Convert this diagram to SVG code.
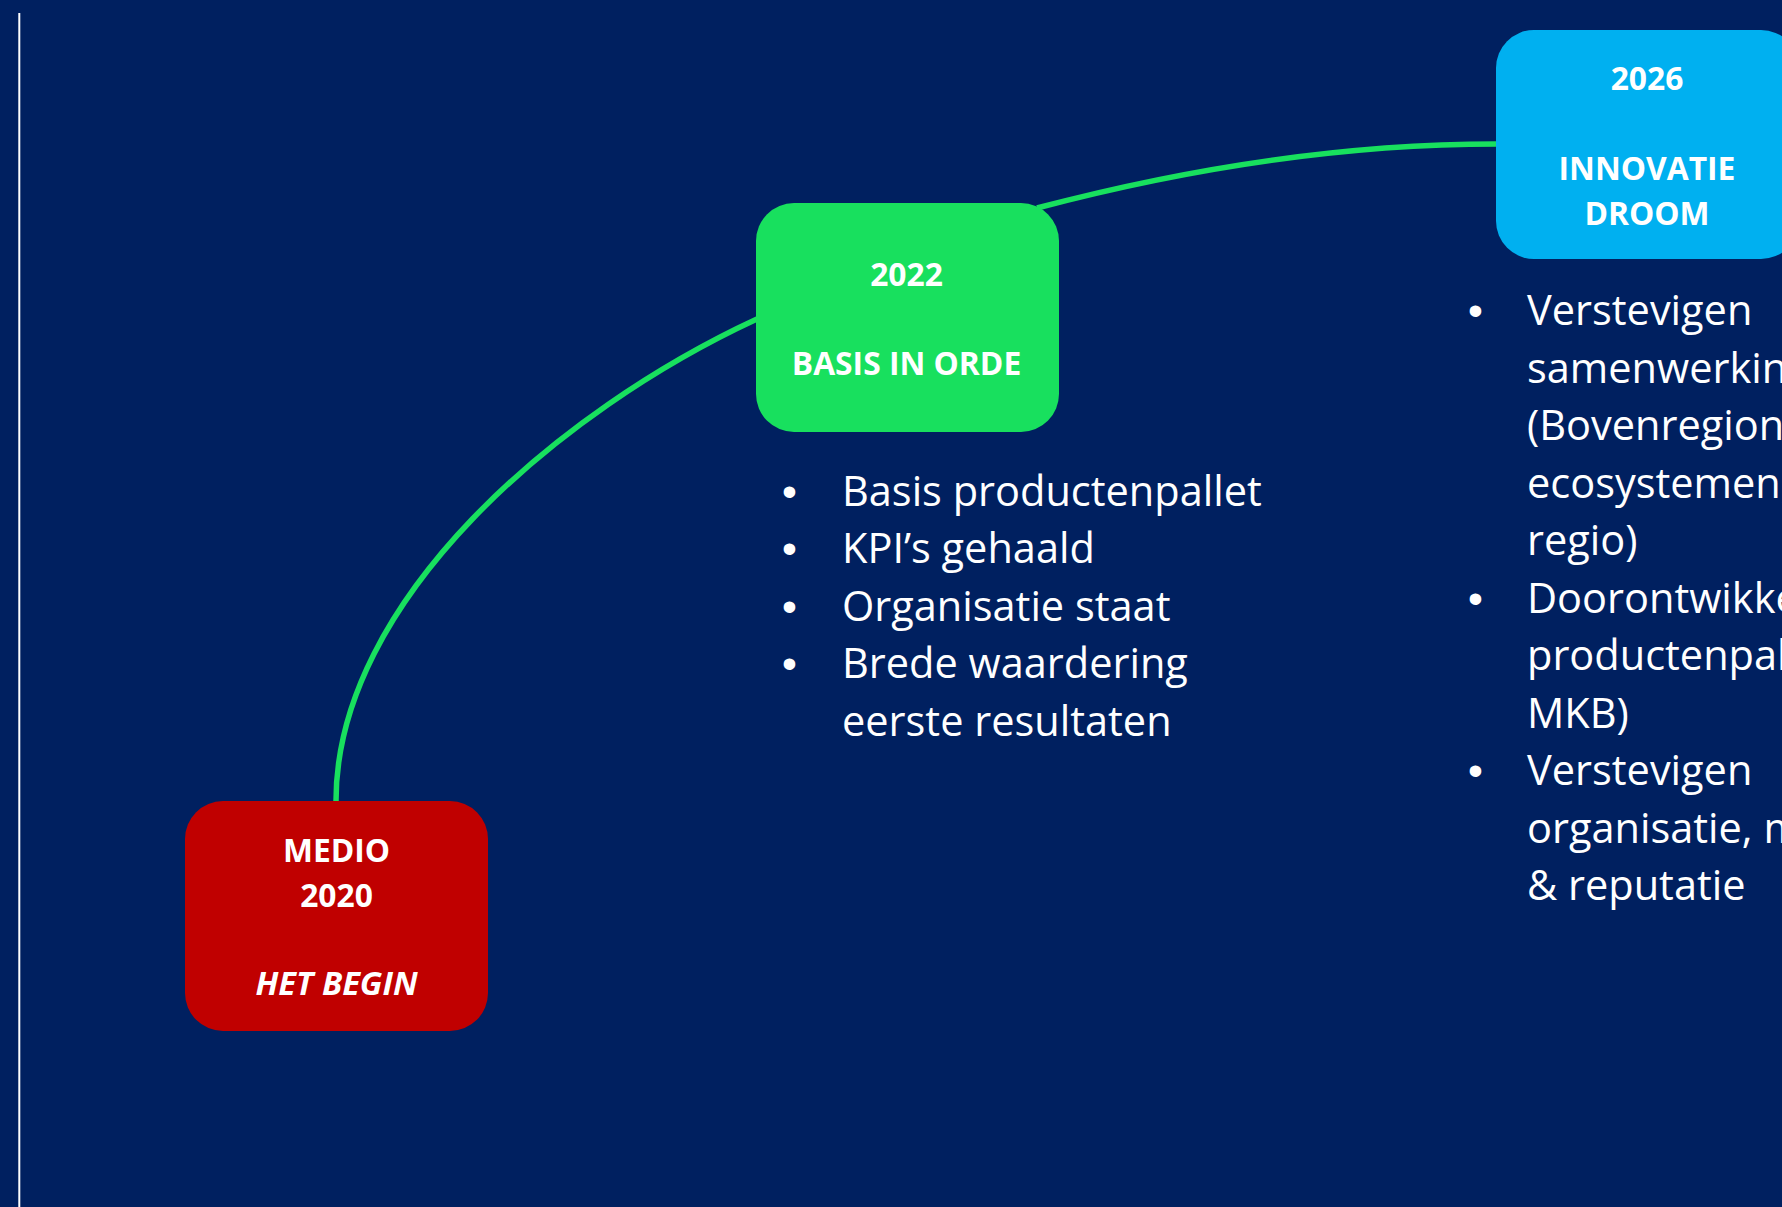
<svg xmlns="http://www.w3.org/2000/svg" width="1782" height="1207" viewBox="0 0 1782 1207">
<style>
.bg{fill:#002060}
.conn{fill:none;stroke:#18E05E;stroke-width:5.5}
.t{fill:#FFFFFF;font-family:"Open Sans","Noto Sans",sans-serif;font-weight:700;font-size:31.8px;text-anchor:middle}
.ti{font-style:italic;font-size:32.7px}
.b{fill:#FFFFFF;font-family:"Open Sans","Noto Sans",sans-serif;font-size:41.5px}
.bu{fill:#FFFFFF;font-family:"Liberation Sans",Arial,sans-serif;font-size:42.5px}
</style>
<rect class="bg" x="0" y="0" width="1782" height="1207"/>
<line x1="19.3" y1="13" x2="19.3" y2="1207" stroke="#FFFFFF" stroke-width="2"/>
<g id="connectors">
<path class="conn" d="M336,801 C336,600 560,410 757,319"/>
<path class="conn" d="M1037,208 C1200,165 1350,144 1497,144"/>
</g>
<g id="node-2020">
<rect x="185" y="801" width="303" height="230" rx="38" ry="38" fill="#C00000"/>
<text class="t" x="336.5" y="862">MEDIO</text>
<text class="t" x="336.5" y="907">2020</text>
<text class="t ti" x="336.5" y="995">HET BEGIN</text>
</g>
<g id="node-2022">
<rect x="756" y="203" width="303" height="229" rx="38" ry="38" fill="#18E05E"/>
<text class="t" x="906.5" y="286">2022</text>
<text class="t" x="906.5" y="375">BASIS IN ORDE</text>
</g>
<g id="node-2026">
<rect x="1496" y="30" width="303" height="229" rx="38" ry="38" fill="#00B0F0"/>
<text class="t" x="1647" y="90">2026</text>
<text class="t" x="1647" y="180">INNOVATIE</text>
<text class="t" x="1647" y="225">DROOM</text>
</g>
<g id="list-2022">
<text class="bu" x="782" y="505.5">•</text>
<text class="b" x="842" y="505.5">Basis productenpallet</text>
<text class="bu" x="782" y="563">•</text>
<text class="b" x="842" y="563">KPI’s gehaald</text>
<text class="bu" x="782" y="620.5">•</text>
<text class="b" x="842" y="620.5">Organisatie staat</text>
<text class="bu" x="782" y="678">•</text>
<text class="b" x="842" y="678">Brede waardering</text>
<text class="b" x="842" y="735.5">eerste resultaten</text>
</g>
<g id="list-2026">
<text class="bu" x="1468" y="325">•</text>
<text class="b" x="1527" y="325">Verstevigen</text>
<text class="b" x="1527" y="382.5">samenwerking</text>
<text class="b" x="1527" y="440">(Bovenregionaal,</text>
<text class="b" x="1527" y="497.5">ecosystemen,</text>
<text class="b" x="1527" y="555">regio)</text>
<text class="bu" x="1468" y="612.5">•</text>
<text class="b" x="1527" y="612.5">Doorontwikkelen</text>
<text class="b" x="1527" y="670">productenpallet</text>
<text class="b" x="1527" y="727.5">MKB)</text>
<text class="bu" x="1468" y="785">•</text>
<text class="b" x="1527" y="785">Verstevigen</text>
<text class="b" x="1527" y="842.5">organisatie, mensen</text>
<text class="b" x="1527" y="900">&amp; reputatie</text>
</g>
</svg>
